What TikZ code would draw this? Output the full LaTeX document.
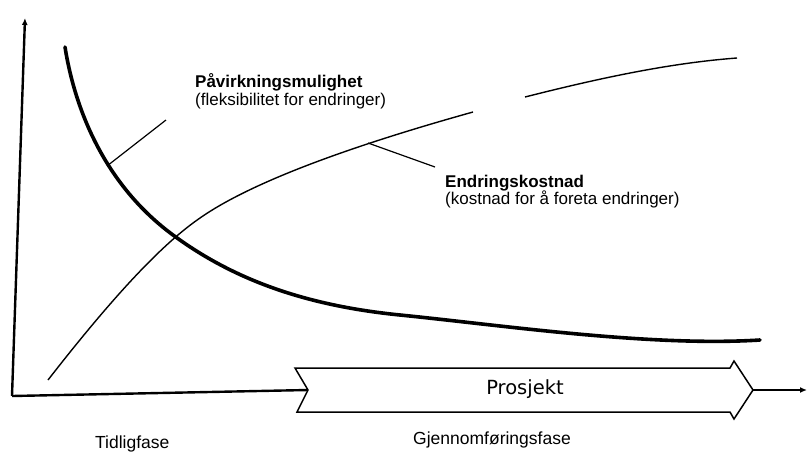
\documentclass[tikz,border=0pt]{standalone}
\usepackage{fontspec}
\setmainfont{Liberation Sans}
\newfontfamily\projfont{DejaVu Sans}
\usetikzlibrary{arrows.meta}
\tikzset{
  axisline/.style={line width=2.4pt,-{Latex[length=7pt,width=6pt]}},
  thickcurve/.style={line width=3.6pt,line cap=round},
  thincurve/.style={line width=1.4pt},
  leader/.style={line width=1.2pt},
  boldlbl/.style={anchor=base west,inner sep=0pt,font=\fontsize{17}{20}\selectfont\bfseries},
  lbl/.style={anchor=base west,inner sep=0pt,font=\fontsize{17}{20}\selectfont},
  phaselbl/.style={anchor=base west,inner sep=0pt,font=\fontsize{17.5}{20}\selectfont},
  projarrow/.style={line width=1.5pt,line join=miter,fill=white},
}
\begin{document}
\begin{tikzpicture}[x=1pt,y=-1pt]
\useasboundingbox[fill=white] (0,0) rectangle (808,453);
% axes
\coordinate (origin) at (12,396);
\coordinate (ytop) at (25,18);
\coordinate (notch) at (308,390);
\coordinate (tip) at (753,390);
\coordinate (xend) at (807,390);
\draw[axisline] (origin) -- (ytop);
\draw[line width=2.4pt] (origin) -- (notch);
\draw[axisline] (tip) -- (xend);
% project arrow
\draw[projarrow] (295,368) -- (730,368) -- (734,361) -- (tip) -- (734,419) -- (730,412) -- (297,412) -- (notch) -- cycle;
\node[font=\projfont\fontsize{19.5}{22}\selectfont,inner sep=0pt] (prosjekt) at (525,389) {Prosjekt};
% thin curve (endringskostnad)
\draw[thincurve] (48,380) .. controls (118,290) and (165,242) .. (200,218)
                 .. controls (260,176) and (380,138) .. (473,112);
\draw[thincurve] (525,97) .. controls (600,78) and (670,63) .. (737,58);
% thick curve (påvirkningsmulighet)
\draw[thickcurve] (65,47) .. controls (75,110) and (105,185) .. (173,235)
                  .. controls (230,277) and (300,305) .. (400,315)
                  .. controls (500,325) and (650,347) .. (760,340);
% leaders
\coordinate (pavA) at (107,166);
\coordinate (pavB) at (166,120);
\coordinate (endA) at (368,143);
\coordinate (endB) at (435,167);
\draw[leader] (pavA) -- (pavB);
\draw[leader] (endA) -- (endB);
% labels
\node[boldlbl] (pav) at (195,87) {Påvirkningsmulighet};
\node[lbl] (pavsub) at (195,105) {(fleksibilitet for endringer)};
\node[boldlbl] (end) at (445,187) {Endringskostnad};
\node[lbl] (endsub) at (445,204) {(kostnad for å foreta endringer)};
\node[phaselbl] (tidlig) at (95,448) {Tidligfase};
\node[phaselbl] (gjen) at (413,444) {Gjennomføringsfase};
\end{tikzpicture}
\end{document}
